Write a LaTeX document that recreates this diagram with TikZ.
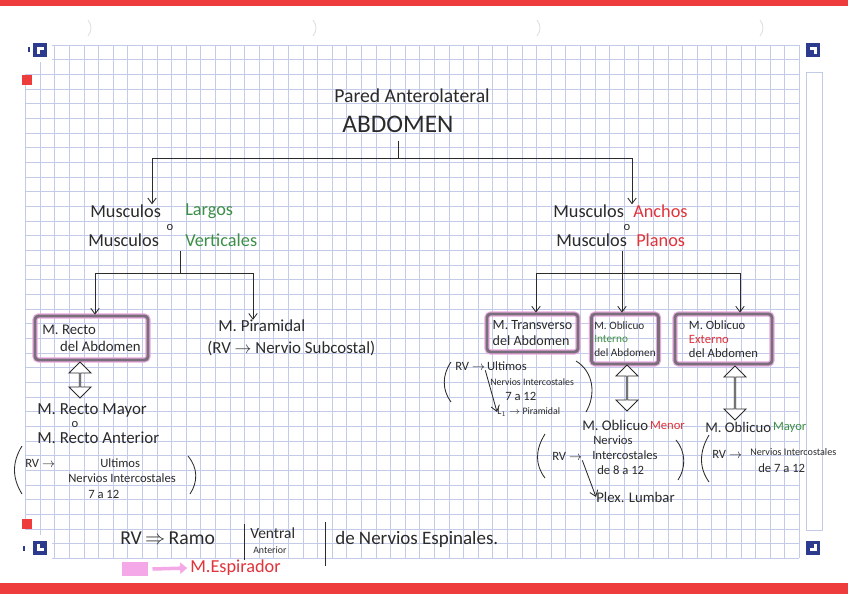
\documentclass[tikz,border=0pt]{standalone}
\usepackage{fontspec}
\setmainfont{Carlito}
\usetikzlibrary{arrows.meta,shapes.arrows,positioning}
\definecolor{ink}{HTML}{2B2B2B}
\definecolor{verde}{HTML}{3C8F46}
\definecolor{rojo}{HTML}{E0333A}
\definecolor{bandred}{HTML}{EE3B3B}
\definecolor{gridblue}{HTML}{C3CBE8}
\definecolor{markblue}{HTML}{2D3B8E}
\definecolor{boxgray}{HTML}{77707A}
\definecolor{halo}{HTML}{E8A6DE}
\definecolor{rosa}{HTML}{F4A8E8}
\begin{document}
\begin{tikzpicture}[x=0.025cm, y=-0.025cm,
    lbl/.style={inner sep=0pt, anchor=west, text=ink},
    ftit/.style={font=\fontsize{14}{16}\selectfont},
    fabd/.style={font=\fontsize{18}{20}\selectfont},
    fmus/.style={font=\fontsize{13}{15}\selectfont},
    fmid/.style={font=\fontsize{12}{14}\selectfont},
    fmed/.style={font=\fontsize{10.5}{12}\selectfont},
    fsm/.style={font=\fontsize{9}{10}\selectfont},
    fxs/.style={font=\fontsize{7}{8}\selectfont},
    linea/.style={draw=ink, line width=0.6pt},
    arr/.style={linea, -{Straight Barb[length=4pt,width=6pt]}},
    musbox/.style={draw=boxgray, line width=2pt, rounded corners=2.5pt,
        preaction={draw=halo, line width=3.6pt}, inner sep=2pt, align=left, text=ink},
    dflecha/.style={double arrow, draw=ink, line width=0.6pt, fill=white, rotate=90,
        inner sep=0pt, minimum width=0.55cm, double arrow head extend=0.15cm},
    gridline/.style={draw=gridblue, line width=0.4pt}]

    % Paper
    \fill[white] (0,0) rectangle (848,600);
    \useasboundingbox (0,0) rectangle (848,600);
    \fill[bandred] (0,0) rectangle (848,6);
    \fill[bandred] (0,583) rectangle (848,594);
    \foreach \rx in {88,313,537,760}
        \draw[gray!25, line width=0.6pt] (\rx,20) .. controls (\rx+4,25) and (\rx+4,31) .. (\rx,36);

    % Grid
    \foreach \i in {0,...,52}
        \draw[gridline] (40+\i*14.6,45) -- (40+\i*14.6,558);
    \foreach \j in {0,...,35}
        \draw[gridline] (40,45+\j*14.66) -- (799.2,45+\j*14.66);
    \foreach \j in {2,...,33}
        \draw[gridline] (25.4,45+\j*14.66) -- (40,45+\j*14.66);
    \draw[gridline] (25.4,74.3) -- (25.4,528.8);
    \draw[gridline] (806,72) rectangle (822,530);

    % Corner marks
    \fill[white] (22,38) rectangle (52,62);
    \fill[white] (22,535) rectangle (52,560);
    \fill[white] (800,38) rectangle (826,62);
    \fill[white] (800,535) rectangle (826,560);
    \fill[markblue] (33,43) rectangle (47,57);
    \fill[white] (37,47) rectangle (40,54);
    \fill[white] (37,47) rectangle (44,50);
    \fill[markblue] (28,47) rectangle (30,52);
    \fill[markblue] (806,43) rectangle (820,57);
    \fill[white] (810,47) rectangle (817,50);
    \fill[white] (814,47) rectangle (817,54);
    \fill[markblue] (33,541) rectangle (47,555);
    \fill[white] (37,544) rectangle (40,551);
    \fill[white] (37,548) rectangle (44,551);
    \fill[markblue] (23,546) rectangle (25,551);
    \fill[markblue] (806,541) rectangle (820,555);
    \fill[white] (814,544) rectangle (817,551);
    \fill[white] (810,548) rectangle (817,551);
    \fill[bandred] (22,75) rectangle (32,85);
    \fill[bandred] (22,519) rectangle (32,529);

    % Title
    \node[lbl, anchor=center, ftit] (titulo) at (412,96) {Pared Anterolateral};
    \node[lbl, anchor=center, fabd] (abd) at (398,124) {ABDOMEN};

    % Left group
    \node[lbl, fmus] (musL1) at (90,211) {Musculos};
    \node[lbl, fmus, text=verde] (largos) at (185,211) {Largos};
    \node[lbl, fsm, anchor=center] (oL) at (170,227) {o};
    \node[lbl, fmus] (musL2) at (88,240) {Musculos};
    \node[lbl, fmus, text=verde] (verticales) at (185,240) {Verticales};

    % Right group
    \node[lbl, fmus] (musR1) at (553,211) {Musculos};
    \node[lbl, fmus, text=rojo] (anchos) at (633,211) {Anchos};
    \node[lbl, fsm, anchor=center] (oR) at (627,227) {o};
    \node[lbl, fmus] (musR2) at (556,240) {Musculos};
    \node[lbl, fmus, text=rojo] (planos) at (636,240) {Planos};

    % Main branches
    \coordinate (jL) at (152,158);
    \coordinate (jR) at (632,158);
    \draw[linea] ([yshift=-2mm]abd.south) -- (abd.south |- jL);
    \draw[linea] (jL) -- (jR);
    \draw[arr] (jL) -- (jL |- musL1.north);
    \draw[arr] (jR) -- (jR |- musR1.north);

    % Muscles of the left group
    \node[musbox, fmed, minimum width=2.825cm, minimum height=1.1cm] (recto) at (91.5,338)
        {M. Recto\\\hspace*{1.2em}del Abdomen};
    \node[lbl, fmid] (piram) at (218,326) {M. Piramidal};
    \node[lbl, fmid] (piramRV) at (207,348) {(RV $\rightarrow$ Nervio Subcostal)};

    \coordinate (jL2) at (180,273);
    \coordinate (kL1) at (95,273);
    \coordinate (kL2) at (253,273);
    \draw[linea] ([yshift=-1mm]musL2.south -| jL2) -- (jL2);
    \draw[linea] (kL1) -- (kL2);
    \draw[arr] (kL1) -- (kL1 |- recto.north);
    \draw[arr] (kL2) -- (kL2 |- piram.north);

    \node[dflecha, minimum height=0.9cm] (dfRecto) at (80,380) {};
    \node[lbl, fmid] (rMayor) at (37,410) {M. Recto Mayor};
    \node[lbl, fsm, anchor=center] (oRecto) at (75,424) {o};
    \node[lbl, fmid] (rAnterior) at (37,438) {M. Recto Anterior};
    \node[lbl, fsm] (rvR) at (25,463) {RV $\rightarrow$};
    \node[lbl, fsm] (ultR) at (100,463) {Ultimos};
    \node[lbl, fsm] (nervR) at (68,478) {Nervios Intercostales};
    \node[lbl, fsm] (numR) at (88,494) {7 a 12};
    \draw[linea] (22,446) .. controls (12,462) and (12,478) .. (22,494);
    \draw[linea] (188,456) .. controls (198,468) and (198,482) .. (190,494);

    % Muscles of the right group
    \node[musbox, font=\fontsize{10}{11.5}\selectfont, minimum width=2.275cm, minimum height=0.95cm] (transv) at (532.5,333)
        {M. Transverso\\del Abdomen};
    \node[musbox, font=\fontsize{8}{9.5}\selectfont, minimum width=1.6cm, minimum height=1.25cm] (interno) at (625,339)
        {M. Oblicuo\\\textcolor{verde}{Interno}\\del Abdomen};
    \node[musbox, fsm, minimum width=2.425cm, minimum height=1.25cm] (externo) at (723.5,339)
        {M. Oblicuo\\\textcolor{rojo}{Externo}\\del Abdomen};

    \coordinate (jR2) at (622,273);
    \coordinate (kR1) at (536,273);
    \coordinate (kR3) at (740,273);
    \draw[linea] ([yshift=-1mm]musR2.south -| jR2) -- (jR2);
    \draw[linea] (kR1) -- (kR3);
    \draw[arr] (kR1) -- (kR1 |- transv.north);
    \draw[arr] (jR2) -- (jR2 |- interno.north);
    \draw[arr] (kR3) -- (kR3 |- externo.north);

    % Transverso nerves
    \node[lbl, fsm] (rvT) at (455,366) {RV $\rightarrow$};
    \node[lbl, fsm, right=1pt of rvT] (ultT) {Ultimos};
    \node[lbl, fxs] (nervT) at (490,382) {Nervios Intercostales};
    \node[lbl, fsm] (numT) at (505,396) {7 a 12};
    \node[lbl, fxs] (l1T) at (497,412) {L$_1$ $\rightarrow$ Piramidal};
    \draw[arr] (rvT.south east) -- (l1T.west);
    \draw[linea] (451,362) .. controls (442,375) and (442,390) .. (451,402);
    \draw[linea] (576,361) .. controls (594,372) and (596,395) .. (586,412);

    % Oblicuo menor
    \node[dflecha, minimum height=1.15cm] (dfInterno) at (627,388) {};
    \node[lbl, fmed] (oMenor) at (582,425) {M. Oblicuo};
    \node[lbl, fsm, text=rojo, right=1pt of oMenor] (menor) {Menor};
    \node[lbl, fsm] (rvM) at (552,456) {RV $\rightarrow$};
    \node[lbl, fsm] (nervM) at (593,440) {Nervios};
    \node[lbl, fsm] (intM) at (592,455) {Intercostales};
    \node[lbl, fsm] (numM) at (597,470) {de 8 a 12};
    \node[lbl, fmed] (plexo) at (596,497) {Plex. Lumbar};
    \draw[arr] (rvM.south east) -- (plexo.west);
    \draw[linea] (545,434) .. controls (535,450) and (535,465) .. (545,478);
    \draw[linea] (676,440) .. controls (686,452) and (686,468) .. (678,480);

    % Oblicuo mayor
    \node[dflecha, minimum height=1.35cm] (dfExterno) at (735,393) {};
    \node[lbl, fmed] (oMayor) at (705,427) {M. Oblicuo};
    \node[lbl, fsm, text=verde, right=1pt of oMayor] (mayor) {Mayor};
    \node[lbl, fsm] (rvMy) at (712,454) {RV $\rightarrow$};
    \node[lbl, font=\fontsize{7.2}{8}\selectfont] (nervMy) at (750,452) {Nervios Intercostales};
    \node[lbl, fsm] (numMy) at (758,468) {de 7 a 12};
    \draw[linea] (709,435) .. controls (699,452) and (699,468) .. (709,482);

    % Definition of RV
    \node[lbl, font=\fontsize{14}{16}\selectfont] (rvDef) at (120,538) {RV\,$\Rightarrow$\,Ramo};
    \node[lbl, font=\fontsize{11}{13}\selectfont] (ventral) at (250,533) {Ventral};
    \node[lbl, fxs] (anterior) at (253,550) {Anterior};
    \draw[linea] (244,524) -- (244,560);
    \draw[linea] (325,522) -- (325,566);
    \node[lbl, font=\fontsize{13.5}{15}\selectfont] (espinales) at (335,539) {de Nervios Espinales.};

    % Legend
    \node[fill=rosa, minimum width=0.65cm, minimum height=0.35cm, inner sep=0pt] (leyenda) at (135,569) {};
    \node[lbl, font=\fontsize{13}{15}\selectfont, text=rojo] (espirador) at (190,568) {M.Espirador};
    \draw[rosa, line width=2.5pt, -{Triangle[length=5pt,width=8pt]}] ([xshift=3pt]leyenda.east) -- ([xshift=-2pt]espirador.west);

\end{tikzpicture}
\end{document}
